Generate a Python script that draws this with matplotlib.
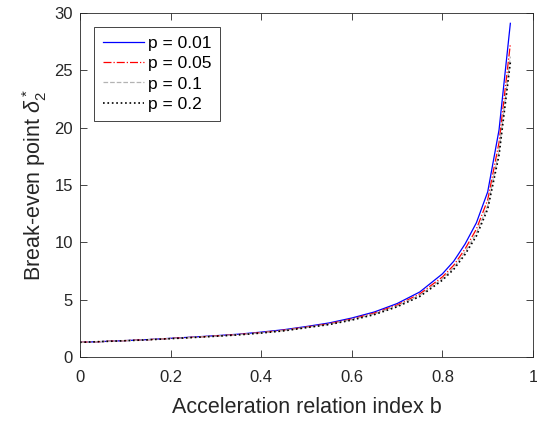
import matplotlib
matplotlib.use("Agg")
import matplotlib.pyplot as plt

b = [0, 0.05, 0.1, 0.15, 0.2, 0.25, 0.3, 0.35, 0.4, 0.45, 0.5, 0.55, 0.6, 0.65,
     0.7, 0.75, 0.8, 0.825, 0.85, 0.875, 0.9, 0.925, 0.95]
p001 = [1.28, 1.35, 1.43, 1.52, 1.63, 1.74, 1.86, 1.99, 2.17, 2.38, 2.66, 2.97, 3.40,
        3.93, 4.66, 5.67, 7.25, 8.35, 9.85, 11.7, 14.4, 19.8, 29.1]
p005 = [1.28, 1.35, 1.43, 1.51, 1.62, 1.72, 1.84, 1.96, 2.13, 2.34, 2.61, 2.90, 3.31,
        3.83, 4.53, 5.50, 6.98, 8.0, 9.42, 11.15, 13.7, 18.7, 27.3]
p01 = [1.28, 1.35, 1.42, 1.51, 1.61, 1.71, 1.82, 1.95, 2.11, 2.31, 2.58, 2.86, 3.26,
       3.76, 4.45, 5.38, 6.82, 7.80, 9.15, 10.8, 13.2, 18.0, 26.2]
p02 = [1.28, 1.35, 1.42, 1.50, 1.60, 1.70, 1.81, 1.93, 2.09, 2.28, 2.56, 2.83, 3.22,
       3.70, 4.38, 5.28, 6.70, 7.65, 8.95, 10.55, 12.9, 17.6, 25.7]
labels = ["p = 0.01", "p = 0.05", "p = 0.1", "p = 0.2"]
xticks = [0, 0.2, 0.4, 0.6, 0.8, 1]
yticks = [0, 5, 10, 15, 20, 25, 30]

plt.rcParams['font.family'] = ['Liberation Sans', 'DejaVu Sans']
plt.rcParams['mathtext.fontset'] = 'custom'
plt.rcParams['mathtext.rm'] = 'Liberation Sans'
plt.rcParams['mathtext.it'] = 'Liberation Sans:italic'

fig = plt.figure(figsize=(5.37, 4.24), dpi=100)
ax = fig.add_axes([80/537, 1-357/424, 453/537, 344/424])

dark = (0.15, 0.15, 0.15)
ax.plot(b, p001, color=(0, 0, 1), ls='-', lw=0.9, label=labels[0])
ax.plot(b, p005, color=(1, 0, 0), ls='-.', lw=0.9, label=labels[1])
ax.plot(b, p01, color=(0.7, 0.7, 0.7), ls='--', lw=0.9, label=labels[2])
ax.plot(b, p02, color='black', ls=':', lw=1.2, label=labels[3])

ax.set_xlim(0, 1)
ax.set_ylim(0, 30)
ax.set_xticks(xticks)
ax.set_xticklabels(['0', '0.2', '0.4', '0.6', '0.8', '1'])
ax.set_yticks(yticks)
ax.tick_params(direction='in', length=5, width=0.6, top=True, right=True,
               labelsize=12, colors=dark)
ax.tick_params(axis='x', pad=9)
ax.tick_params(axis='y', pad=5)
for s in ax.spines.values():
    s.set_color(dark)
    s.set_linewidth(0.6)

ax.set_xlabel('Acceleration relation index b', fontsize=15.5, color=dark, labelpad=9)
ax.set_ylabel(r'Break-even point $\delta_2^*$', fontsize=15.5, color=dark, labelpad=4)

leg = ax.legend(loc='upper left', bbox_to_anchor=(14/453, 1-14/344), fontsize=12.5,
                frameon=True, fancybox=False, edgecolor=dark, framealpha=1,
                handlelength=2.4, handletextpad=0.2, labelspacing=0.3,
                borderpad=0.5, borderaxespad=0)
leg.get_frame().set_linewidth(0.6)

fig.savefig('out.png', dpi=100)
